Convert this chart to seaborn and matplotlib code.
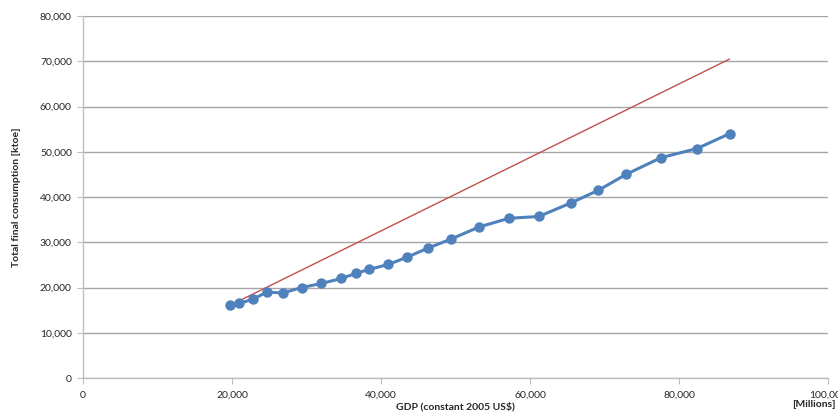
import matplotlib
matplotlib.use("Agg")
import matplotlib.pyplot as plt
import matplotlib.ticker as mticker
import seaborn as sns
import pandas as pd

# Data
gdp = [19800, 21000, 22800, 24700, 26800, 29400, 32000, 34700, 36600, 38400,
       41000, 43500, 46300, 49400, 53200, 57200, 61200, 65500, 69200, 72900,
       77600, 82400, 86800]
tfc = [16100, 16500, 17400, 19000, 18800, 20000, 20900, 22000, 23100, 24000,
       25100, 26700, 28700, 30700, 33400, 35300, 35700, 38700, 41500, 45000,
       48700, 50700, 54000]

# proportional-growth reference line (two end points)
ref_x = [19800, 86800]
ref_y = [16100, 70500]

df = pd.DataFrame({"gdp": gdp, "tfc": tfc})
ref = pd.DataFrame({"gdp": ref_x, "tfc": ref_y})

sns.set_style("white")
plt.rcParams["font.family"] = ["Lato", "DejaVu Sans"]

fig = plt.figure(figsize=(8.38, 4.16), dpi=100)
ax = fig.add_axes([0.099, 0.0913, 0.889, 0.8702])

sns.lineplot(data=ref, x="gdp", y="tfc", color="#C0504D", linewidth=1.0,
             sort=False, ax=ax)
sns.lineplot(data=df, x="gdp", y="tfc", color="#4F81BD", linewidth=2.2,
             marker="o", markersize=7.5, markeredgewidth=0, sort=False, ax=ax)

ax.set_xlim(0, 100000)
ax.set_ylim(0, 80000)
ax.xaxis.set_major_locator(mticker.MultipleLocator(20000))
ax.yaxis.set_major_locator(mticker.MultipleLocator(10000))
fmt = mticker.FuncFormatter(lambda v, p: f"{int(v):,}")
ax.xaxis.set_major_formatter(fmt)
ax.yaxis.set_major_formatter(fmt)

ax.grid(axis="y", color="#A6A6A6", linewidth=1.0)
ax.grid(axis="x", visible=False)
ax.set_axisbelow(True)
for s in ["top", "right"]:
    ax.spines[s].set_visible(False)
for s in ["left", "bottom"]:
    ax.spines[s].set_color("#BFBFBF")
    ax.spines[s].set_linewidth(1.0)

ax.tick_params(axis="both", which="major", labelsize=7.5, length=4,
               color="#BFBFBF", direction="out", pad=4)
ax.tick_params(axis="x", pad=5)
ax.tick_params(left=True, bottom=True)

ax.set_xlabel("GDP (constant 2005 US$)", fontsize=7.5, fontweight="bold",
              labelpad=2)
ax.set_ylabel("Total final consumption [ktoe]", fontsize=7.5,
              fontweight="bold", labelpad=14)
fig.text(0.997, 0.027, "[Millions]", fontsize=7.5, fontweight="bold",
         ha="right", va="center")

plt.savefig("out.png", dpi=100)
plt.close()
